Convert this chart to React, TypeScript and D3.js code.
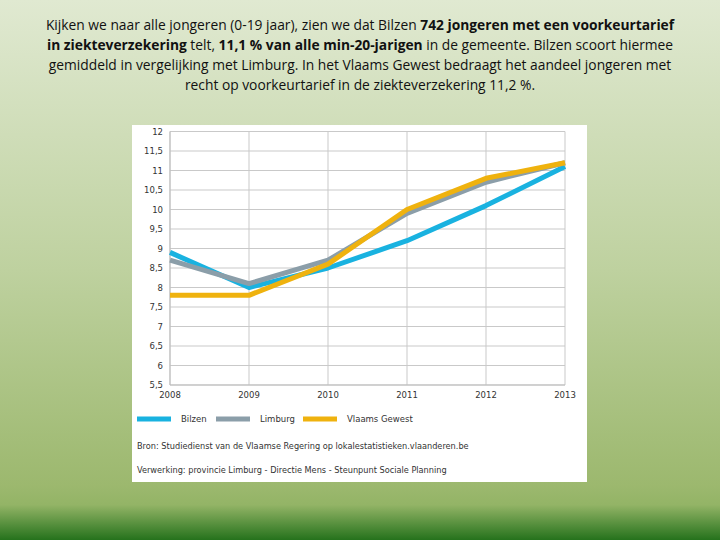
import React from "react";
import * as d3 from "d3";

const years = [2008, 2009, 2010, 2011, 2012, 2013];
const bilzen = [8.9, 8.0, 8.5, 9.2, 10.1, 11.1];
const limburg = [8.7, 8.1, 8.7, 9.9, 10.7, 11.2];
const vlaams = [7.8, 7.8, 8.6, 10.0, 10.8, 11.2];
const yTicks = [5.5, 6, 6.5, 7, 7.5, 8, 8.5, 9, 9.5, 10, 10.5, 11, 11.5, 12];
const seriesNames = ["Bilzen", "Limburg", "Vlaams Gewest"];
const seriesColors = ["#19b2e0", "#8b9ea9", "#efb20e"];
const sourceLines = [
  "Bron: Studiedienst van de Vlaamse Regering op lokalestatistieken.vlaanderen.be",
  "Verwerking: provincie Limburg - Directie Mens - Steunpunt Sociale Planning",
];

export default function App() {
  const W = 720, H = 540;
  const x = d3.scaleLinear().domain([2008, 2013]).range([170, 565]);
  const y = d3.scaleLinear().domain([5.5, 12]).range([385, 131.5]);
  const line = d3.line<number>().x((_, i) => x(years[i])).y((d) => y(d));
  const series = [bilzen, limburg, vlaams];
  const fmt = (v: number) => String(v).replace(".", ",");
  const chartFont = "DejaVu Sans, Verdana, sans-serif";
  const textFont = "'Open Sans', sans-serif";
  const legendX = [137, 216, 303];

  return (
    <svg width={W} height={H} style={{ position: "absolute", left: 0, top: 0, display: "block" }}>
      <defs>
        <linearGradient id="bg" x1="0" y1="0" x2="0" y2="1">
          <stop offset="0" stopColor="#e0e9d1" />
          <stop offset="0.5" stopColor="#bed19f" />
          <stop offset="0.9" stopColor="#9cb86e" />
          <stop offset="0.935" stopColor="#93b466" />
          <stop offset="1" stopColor="#25721c" />
        </linearGradient>
      </defs>
      <rect x={0} y={0} width={W} height={H} fill="url(#bg)" />
      <g fontFamily={textFont} fontSize={13.8} fill="#111" textAnchor="middle">
        <text x={360} y={30}>
          Kijken we  naar alle jongeren (0-19 jaar), zien we dat Bilzen{" "}
          <tspan fontWeight="bold">742 jongeren met een voorkeurtarief</tspan>
        </text>
        <text x={360} y={50}>
          <tspan fontWeight="bold">in ziekteverzekering</tspan> telt,{" "}
          <tspan fontWeight="bold">11,1 % van alle min-20-jarigen</tspan> in de gemeente. Bilzen scoort hiermee
        </text>
        <text x={360} y={70}>
          gemiddeld in vergelijking met Limburg. In het Vlaams Gewest bedraagt het aandeel jongeren met
        </text>
        <text x={360} y={90}>recht op voorkeurtarief in de ziekteverzekering 11,2 %.</text>
      </g>
      <rect x={132} y={125} width={455} height={357} fill="#ffffff" />
      <g>
        {yTicks.map((t) => (
          <line key={"h" + t} x1={170} x2={565} y1={y(t)} y2={y(t)} stroke="#c9c9c9" strokeWidth={1} />
        ))}
        {years.map((yr) => (
          <line key={"v" + yr} x1={x(yr)} x2={x(yr)} y1={y(12)} y2={y(5.5)} stroke="#c9c9c9" strokeWidth={1} />
        ))}
        <line x1={170} x2={170} y1={y(12)} y2={y(5.5)} stroke="#bdbdbd" strokeWidth={1} />
        <line x1={170} x2={565} y1={y(5.5)} y2={y(5.5)} stroke="#bdbdbd" strokeWidth={1} />
      </g>
      <g fontFamily={chartFont} fontSize={8.5} fill="#333">
        {yTicks.map((t) => (
          <text key={"yl" + t} x={163} y={y(t) + 3} textAnchor="end">{fmt(t)}</text>
        ))}
        {years.map((yr) => (
          <text key={"xl" + yr} x={x(yr)} y={398} textAnchor="middle">{yr}</text>
        ))}
      </g>
      <g fill="none" strokeWidth={5} strokeLinejoin="round">
        {series.map((s, i) => (
          <path key={seriesNames[i]} d={line(s) || ""} stroke={seriesColors[i]} />
        ))}
      </g>
      <g fontFamily={chartFont} fontSize={8.5} fill="#333">
        {seriesNames.map((n, i) => (
          <g key={n}>
            <line x1={legendX[i]} x2={legendX[i] + 34} y1={419} y2={419} stroke={seriesColors[i]} strokeWidth={5} />
            <text x={legendX[i] + 44} y={422}>{n}</text>
          </g>
        ))}
      </g>
      <g fontFamily={chartFont} fontSize={8.2} fill="#333">
        {sourceLines.map((s, i) => (
          <text key={i} x={137} y={449 + i * 24}>{s}</text>
        ))}
      </g>
    </svg>
  );
}
